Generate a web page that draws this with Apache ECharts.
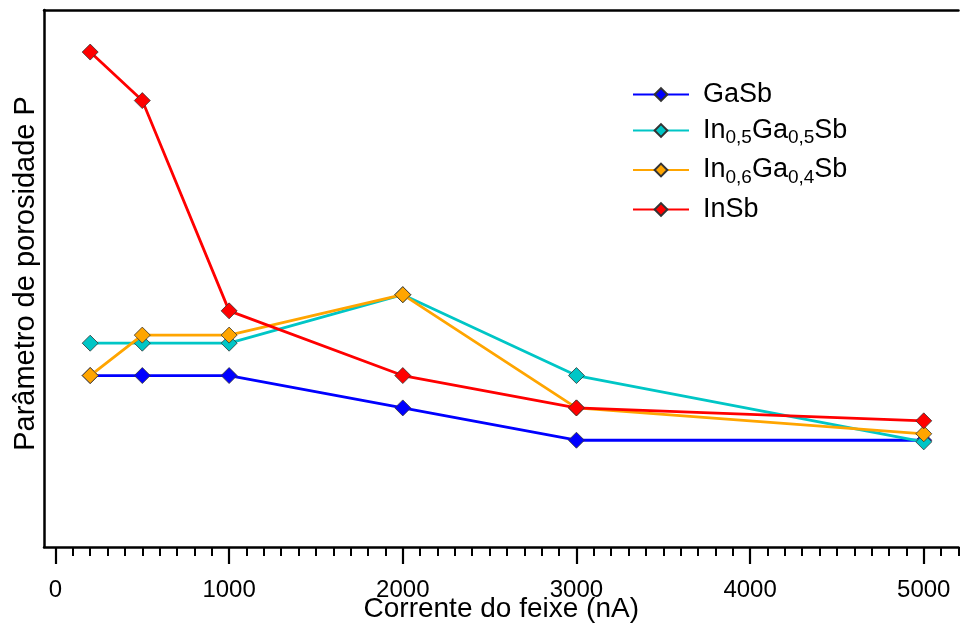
<!DOCTYPE html>
<html>
<head>
<meta charset="utf-8">
<script src="https://cdn.jsdelivr.net/npm/echarts@6/dist/echarts.min.js"></script>
<style>html,body{margin:0;padding:0;background:#fff}#c{width:960px;height:627px}</style>
</head>
<body>
<div id="c"></div>
<script>
// Data (y in arbitrary units)
const current = [200, 500, 1000, 2000, 3000, 5000];
const gaSb = [0.53, 0.53, 0.53, 0.43, 0.33, 0.33];
const in05ga05Sb = [0.63, 0.63, 0.63, 0.78, 0.53, 0.325];
const in06ga04Sb = [0.53, 0.655, 0.655, 0.78, 0.43, 0.35];
const inSb = [1.53, 1.38, 0.73, 0.53, 0.43, 0.39];
const seriesNames = ['GaSb', 'In0,5Ga0,5Sb', 'In0,6Ga0,4Sb', 'InSb'];
const legendLabels = {
  'GaSb': '{n|GaSb}',
  'In0,5Ga0,5Sb': '{n|In}{s|0,5}{n|Ga}{s|0,5}{n|Sb}',
  'In0,6Ga0,4Sb': '{n|In}{s|0,6}{n|Ga}{s|0,4}{n|Sb}',
  'InSb': '{n|InSb}'
};
const majorTicks = [0, 1000, 2000, 3000, 4000, 5000];
const minorStep = 100;
const colors = ['#0000ff', '#00c6c6', '#ffa500', '#ff0000'];
const xTitle = 'Corrente do feixe (nA)';
const yTitle = 'Parâmetro de porosidade P';

const FONT = 'Liberation Sans, Arial, sans-serif';
const k = 173.66 / 1000; // px per nA
const gridLeft = 44, gridTop = 10, gridH = 537;
const xMinA = -66, xMaxA = 5200;
const minorTicks = [];
for (let v = minorStep; v <= xMaxA; v += minorStep) {
  if (majorTicks.indexOf(v) < 0) minorTicks.push(v);
}

function pairs(arr) { return current.map((x, i) => [x, arr[i]]); }
const allData = [gaSb, in05ga05Sb, in06ga04Sb, inSb];
const gridBox = {left: gridLeft, top: gridTop, width: (xMaxA - xMinA) * k, height: gridH,
  containLabel: false, outerBoundsMode: 'none'};

const chart = echarts.init(document.getElementById('c'), null, {renderer: 'canvas'});
chart.setOption({
  animation: false,
  backgroundColor: '#ffffff',
  grid: [Object.assign({}, gridBox), Object.assign({}, gridBox)],
  xAxis: [
    {
      gridIndex: 0, type: 'value', min: xMinA, max: xMaxA, position: 'bottom',
      axisLine: {show: true, onZero: false, lineStyle: {color: '#000', width: 2.5}},
      axisTick: {show: true, customValues: majorTicks, length: 17, lineStyle: {color: '#000', width: 2.2}},
      axisLabel: {show: true, customValues: majorTicks, formatter: v => String(v),
        fontFamily: FONT, fontSize: 24, color: '#000', margin: 31},
      splitLine: {show: false},
      name: xTitle, nameLocation: 'middle', nameGap: 48, nameMoveOverlap: false,
      nameTextStyle: {fontFamily: FONT, fontSize: 28, color: '#000'}
    },
    {
      gridIndex: 0, type: 'value', min: xMinA, max: xMaxA, position: 'top',
      axisLine: {show: true, onZero: false, lineStyle: {color: '#000', width: 2.5}},
      axisTick: {show: false}, axisLabel: {show: false}, splitLine: {show: false}
    },
    {
      gridIndex: 1, type: 'value', min: xMinA, max: xMaxA, position: 'bottom',
      axisLine: {show: false, onZero: false},
      axisTick: {show: true, customValues: minorTicks, length: 9, lineStyle: {color: '#000', width: 2}},
      axisLabel: {show: false}, splitLine: {show: false}
    }
  ],
  yAxis: [
    {
      gridIndex: 0, type: 'value', min: 0, max: 1.66,
      axisLine: {show: true, onZero: false, lineStyle: {color: '#000', width: 2.5}},
      axisTick: {show: false}, axisLabel: {show: false}, splitLine: {show: false},
      name: yTitle, nameLocation: 'middle', nameGap: 4, nameMoveOverlap: false,
      nameTextStyle: {fontFamily: FONT, fontSize: 29, color: '#000', padding: [0, 0, 0, 10]}
    },
    {gridIndex: 1, type: 'value', min: 0, max: 1.66, show: false}
  ],
  legend: {
    left: 632, top: 81, orient: 'vertical', itemGap: 9, padding: 0,
    itemWidth: 56, itemHeight: 16,
    data: seriesNames,
    formatter: name => legendLabels[name],
    textStyle: {
      fontFamily: FONT, color: '#000', padding: [0, 0, 0, 9],
      rich: {
        n: {fontFamily: FONT, fontSize: 27, lineHeight: 34, verticalAlign: 'middle', color: '#000'},
        s: {fontFamily: FONT, fontSize: 19, lineHeight: 19, verticalAlign: 'bottom', color: '#000'}
      }
    }
  },
  series: seriesNames.map((name, i) => ({
    name: name, type: 'line', xAxisIndex: 0, yAxisIndex: 0,
    data: pairs(allData[i]),
    symbol: 'diamond', symbolSize: 16, showAllSymbol: true,
    lineStyle: {color: colors[i], width: 2.8},
    itemStyle: {color: colors[i], borderColor: '#333', borderWidth: 0.8},
    emphasis: {disabled: true},
    z: 2 + i
  }))
});
</script>
</body>
</html>
